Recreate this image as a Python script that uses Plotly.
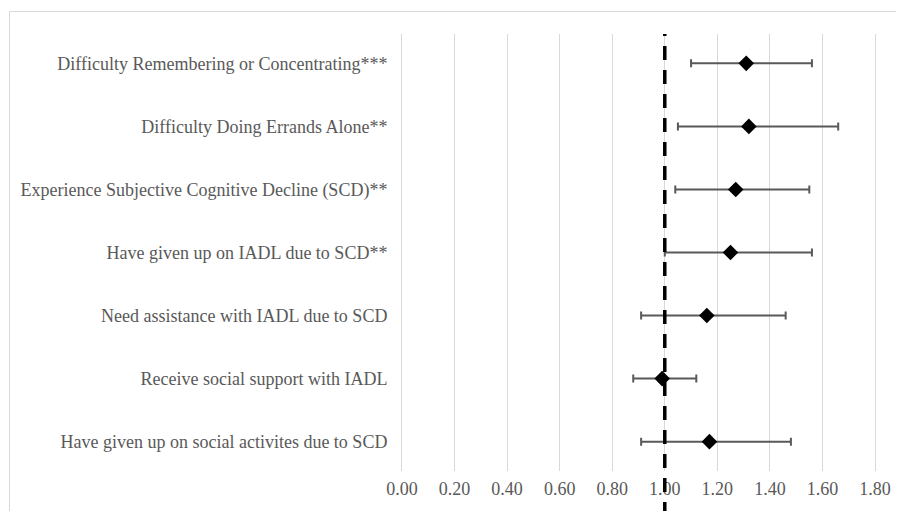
import plotly.graph_objects as go

categories = [
    "Difficulty Remembering or Concentrating***",
    "Difficulty Doing Errands Alone**",
    "Experience Subjective Cognitive Decline (SCD)**",
    "Have given up on IADL due to SCD**",
    "Need assistance with IADL due to SCD",
    "Receive social support with IADL",
    "Have given up on social activites due to SCD",
]
odds_ratio = [1.31, 1.32, 1.27, 1.25, 1.16, 0.99, 1.17]
ci_lower = [1.10, 1.05, 1.04, 1.00, 0.91, 0.88, 0.91]
ci_upper = [1.56, 1.66, 1.55, 1.56, 1.46, 1.12, 1.48]
tick_values = [0.0, 0.2, 0.4, 0.6, 0.8, 1.0, 1.2, 1.4, 1.6, 1.8]
reference_value = 1.0

# page has an 8px body margin; work in figure pixel space
OFF = 8
W, H = 904 - OFF, 511 - OFF
L, R, T, B = 402 - OFF, 875 - OFF, 34 - OFF, 471 - OFF

err_plus = [u - m for u, m in zip(ci_upper, odds_ratio)]
err_minus = [m - l for m, l in zip(odds_ratio, ci_lower)]

fig = go.Figure()
fig.add_trace(go.Scatter(
    x=odds_ratio, y=categories, mode="markers",
    marker=dict(symbol="diamond", size=12, color="black"),
    error_x=dict(type="data", symmetric=False, array=err_plus, arrayminus=err_minus,
                 color="#595959", thickness=2, width=4),
    showlegend=False, hoverinfo="x+y",
))

def px_to_paper_x(px):
    return (px - L) / (R - L)

def px_to_paper_y(py):
    return (B - py) / (B - T)

# outer chart border (partially cropped)
fig.add_shape(type="rect", xref="paper", yref="paper",
              x0=px_to_paper_x(9.5 - OFF), x1=px_to_paper_x(W + 20),
              y0=px_to_paper_y(H + 20), y1=px_to_paper_y(11.5 - OFF),
              line=dict(color="#d9d9d9", width=1), layer="below")

# reference dashed line
fig.add_shape(type="line", xref="x", yref="paper",
              x0=reference_value, x1=reference_value,
              y0=px_to_paper_y(H + 5), y1=1.0,
              line=dict(color="black", width=3.5, dash="14px,10px"), layer="above")

font_fam = "Liberation Serif, Times New Roman, serif"
fig.update_layout(
    width=W, height=H,
    margin=dict(l=L, r=W - R, t=T, b=H - B),
    paper_bgcolor="white", plot_bgcolor="white",
    font=dict(family=font_fam, size=18, color="#595959"),
    xaxis=dict(range=[0, 1.8], tickvals=tick_values, tickformat=".2f",
               showgrid=True, gridcolor="#d9d9d9", gridwidth=1,
               zeroline=False, showline=False, ticks="",
               tickfont=dict(family=font_fam, size=18, color="#595959"),
               ticklabelstandoff=5),
    yaxis=dict(type="category", categoryorder="array", categoryarray=categories,
               autorange="reversed", showgrid=False, zeroline=False,
               showline=True, linecolor="#d9d9d9", linewidth=1, mirror=True,
               ticks="", ticklabelstandoff=10,
               tickfont=dict(family=font_fam, size=18, color="#595959")),
)

fig.write_html("out.html")
